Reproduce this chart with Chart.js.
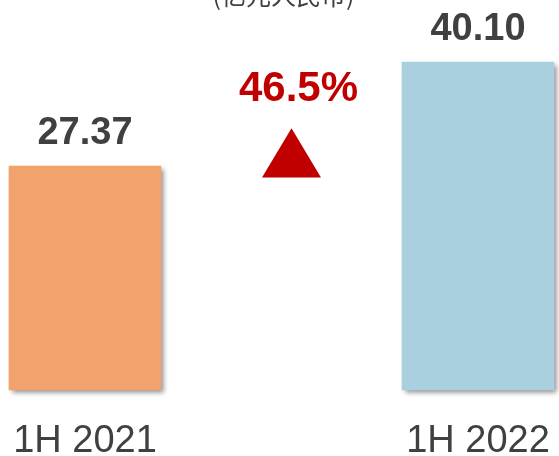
<!DOCTYPE html>
<html>
<head>
<meta charset="utf-8">
<script src="https://cdn.jsdelivr.net/npm/chart.js@4.4.1/dist/chart.umd.min.js"></script>
<style>
html,body{margin:0;padding:0;background:#fff;}
#wrap{width:559px;height:456px;position:relative;}
</style>
</head>
<body>
<div id="wrap"><canvas id="c" width="559" height="456"></canvas></div>
<script>
const categories = ['1H 2021', '1H 2022'];
const revenue = [27.37, 40.10];
const valueLabels = ['27.37', '40.10'];
const growthLabel = '46.5%';
const unitLabel = '(亿元人民币)';
const barColors = ['#F2A26C', '#AAD0DF'];

const TEXT = '#404040';
const RED = '#C00000';
const FONT = "'Liberation Sans', Arial, sans-serif";

const shadowPlugin = {
  id: 'barShadow',
  beforeDatasetsDraw(chart) {
    const ctx = chart.ctx;
    ctx.save();
    ctx.shadowColor = 'rgba(0,0,0,0.45)';
    ctx.shadowBlur = 5;
    ctx.shadowOffsetX = 3;
    ctx.shadowOffsetY = 3;
  },
  afterDatasetsDraw(chart) {
    chart.ctx.restore();
  }
};

const annotPlugin = {
  id: 'annot',
  afterDraw(chart) {
    const ctx = chart.ctx;
    const x = chart.scales.x, y = chart.scales.y;
    const meta = chart.getDatasetMeta(0);
    ctx.save();
    ctx.fillStyle = TEXT;
    ctx.font = 'bold 38px ' + FONT;
    ctx.textAlign = 'center';
    ctx.textBaseline = 'alphabetic';
    meta.data.forEach((bar, i) => {
      ctx.fillText(valueLabels[i], bar.x, bar.y - 22);
    });
    const mid = (x.getPixelForValue(0) + x.getPixelForValue(1)) / 2;
    ctx.fillStyle = RED;
    ctx.font = 'bold 42px ' + FONT;
    ctx.fillText(growthLabel, mid + 17, y.getPixelForValue(35.3));
    const apexY = y.getPixelForValue(32.0);
    const baseY = y.getPixelForValue(26.0);
    const cx = mid + 10;
    ctx.beginPath();
    ctx.moveTo(cx, apexY);
    ctx.lineTo(cx + 29.5, baseY);
    ctx.lineTo(cx - 29.5, baseY);
    ctx.closePath();
    ctx.fill();
    ctx.fillStyle = TEXT;
    ctx.font = "25px 'Noto Sans CJK SC', sans-serif";
    ctx.textBaseline = 'alphabetic';
    ctx.fillText(unitLabel, mid + 2, 5);
    ctx.restore();
  }
};

new Chart(document.getElementById('c'), {
  type: 'bar',
  data: {
    labels: categories,
    datasets: [{
      data: revenue,
      backgroundColor: barColors,
      borderWidth: 0,
      barThickness: 152,
      clip: false
    }]
  },
  options: {
    responsive: false,
    animation: false,
    devicePixelRatio: 1,
    layout: { padding: { left: 85, right: 81, top: 22, bottom: 0 } },
    plugins: { legend: { display: false }, tooltip: { enabled: false } },
    scales: {
      x: {
        offset: false,
        grid: { display: false, drawTicks: false },
        border: { display: false },
        ticks: { color: TEXT, font: { family: FONT, size: 38 }, padding: 29, maxRotation: 0, autoSkip: false },
        afterFit(scale) { scale.height = 66; scale.paddingLeft = 0; scale.paddingRight = 0; }
      },
      y: {
        display: false,
        min: 0,
        max: 45
      }
    }
  },
  plugins: [shadowPlugin, annotPlugin]
});
</script>
</body>
</html>
